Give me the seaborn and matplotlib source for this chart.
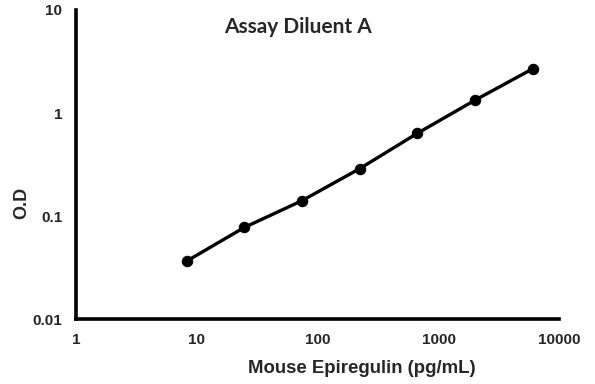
import matplotlib
matplotlib.use("Agg")
import matplotlib.pyplot as plt
import seaborn as sns
import pandas as pd
from matplotlib.ticker import FixedLocator, FixedFormatter, NullLocator

# standard curve values
conc = [8.2, 24.7, 74, 222, 667, 2000, 6000]
od = [0.0365, 0.0776, 0.141, 0.288, 0.635, 1.33, 2.68]
x_ticks = [1, 10, 100, 1000, 10000]
x_labels = ["1", "10", "100", "1000", "10000"]
y_ticks = [0.01, 0.1, 1, 10]
y_labels = ["0.01", "0.1", "1", "10"]

sns.set_style("white")
plt.rcParams["font.family"] = ["Liberation Sans", "DejaVu Sans"]

df = pd.DataFrame({"conc": conc, "od": od})

fig = plt.figure(figsize=(5.95, 3.84), dpi=100)
ax = fig.add_axes([0.128, 0.169, 0.812, 0.805])

sns.lineplot(data=df, x="conc", y="od", ax=ax, color="black",
             linewidth=2.4, marker="o", markersize=7.5,
             markeredgecolor="black", markerfacecolor="black")

ax.set_xscale("log")
ax.set_yscale("log")
ax.set_xlim(1, 10000)
ax.set_ylim(0.01, 10)

ax.xaxis.set_major_locator(FixedLocator(x_ticks))
ax.xaxis.set_major_formatter(FixedFormatter(x_labels))
ax.xaxis.set_minor_locator(NullLocator())
ax.yaxis.set_major_locator(FixedLocator(y_ticks))
ax.yaxis.set_major_formatter(FixedFormatter(y_labels))
ax.yaxis.set_minor_locator(NullLocator())

sns.despine(ax=ax)
for side in ["left", "bottom"]:
    ax.spines[side].set_linewidth(2.6)
    ax.spines[side].set_color("black")

ax.tick_params(axis="both", which="major", direction="out", length=4,
               width=2.2, color="black", labelsize=11, pad=6)
for lbl in ax.get_xticklabels() + ax.get_yticklabels():
    lbl.set_fontweight("bold")

ax.set_xlabel("Mouse Epiregulin (pg/mL)", fontsize=13.4, fontweight="bold")
ax.xaxis.set_label_coords(0.591, -0.133)
ax.set_ylabel("O.D", fontsize=13, fontweight="bold")
ax.yaxis.set_label_coords(-0.095, 0.375)

# title uses a Calibri-like face, as in the reference
ax.text(0.459, 0.945, "Assay Diluent A", transform=ax.transAxes,
        ha="center", va="center", fontsize=15, fontweight="bold",
        family=["Lato", "DejaVu Sans"])

fig.savefig("out.png", dpi=100)
plt.close("all")
